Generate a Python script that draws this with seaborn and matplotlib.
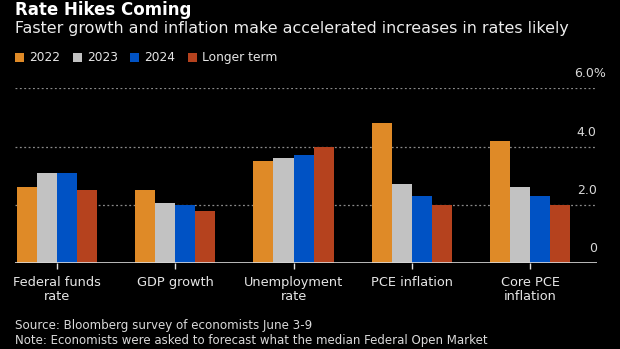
import matplotlib
matplotlib.use("Agg")
import matplotlib.pyplot as plt
import matplotlib.transforms as mtransforms
from matplotlib.patches import Patch
import seaborn as sns
import pandas as pd

# Survey medians (percent)
categories = ["Federal funds\nrate", "GDP growth", "Unemployment\nrate", "PCE inflation", "Core PCE\ninflation"]
periods = ["2022", "2023", "2024", "Longer term"]
v2022 = [2.6, 2.5, 3.5, 4.8, 4.2]
v2023 = [3.1, 2.05, 3.6, 2.7, 2.6]
v2024 = [3.1, 2.0, 3.7, 2.3, 2.3]
vlonger = [2.5, 1.8, 4.0, 2.0, 2.0]
y_ticks = [0, 2, 4, 6]
y_tick_labels = ["0", "2.0", "4.0", "6.0%"]

colors = ["#DF8A27", "#C2C2C2", "#0052C4", "#B5421E"]

rows = []
for period, vals in zip(periods, [v2022, v2023, v2024, vlonger]):
    for cat, v in zip(categories, vals):
        rows.append({"category": cat, "period": period, "value": v})
df = pd.DataFrame(rows)

sns.set_theme(style="dark")
plt.rcParams["font.family"] = ["DejaVu Sans"]

fig = plt.figure(figsize=(6.2, 3.49), dpi=100, facecolor="black")
ax = fig.add_axes([0.0248, 0.2464, 0.9375, 0.5006])
ax.set_facecolor("black")

sns.barplot(data=df, x="category", y="value", hue="period", order=categories,
            hue_order=periods, palette=colors, width=0.68, gap=0,
            saturation=1, ax=ax, legend=False, linewidth=0)

ax.set_xlim(-0.352, 4.563)
ax.set_ylim(0, 6)
ax.set_xlabel("")
ax.set_ylabel("")
for s in ax.spines.values():
    s.set_visible(False)
ax.grid(False)

# dotted gridlines and solid baseline
for y in y_ticks[1:]:
    ax.axhline(y, color="#8A8A8A", lw=0.9, ls=(0, (1.5, 2.0)), zorder=0)
ax.axhline(0, color="#DADADA", lw=1.2, zorder=5)

ax.set_yticks([])
ax.tick_params(axis="x", colors="#E0E0E0", length=4, width=1, direction="out",
               labelsize=9.3, pad=5, bottom=True)
ax.tick_params(axis="x", labelcolor="#E6E6E6")
for t in ax.get_xticklabels():
    t.set_linespacing(1.15)

# y labels sit just above their gridlines at the right edge
yl = mtransforms.blended_transform_factory(ax.transAxes, ax.transData)
for y, lab in zip(y_ticks, y_tick_labels):
    dx = 9 if lab.endswith("%") else 0
    tr = mtransforms.offset_copy(yl, fig=fig, x=dx, y=8, units="dots")
    ax.text(1.0, y, lab, transform=tr, ha="right", va="bottom",
            color="#D8D8D8", fontsize=9.0)

# legend
handles = [Patch(facecolor=c, edgecolor="none") for c in colors]
fig.legend(handles, periods, loc="upper left", bbox_to_anchor=(0.0245, 0.853),
           ncol=4, frameon=False, fontsize=8.8, labelcolor="#E6E6E6",
           handlelength=0.75, handleheight=0.75, handletextpad=0.42,
           columnspacing=1.0, borderpad=0, borderaxespad=0)

fig.text(0.0245, 0.997, "Rate Hikes Coming", color="white", fontsize=12.0,
         fontweight="bold", ha="left", va="top")
fig.text(0.0245, 0.940, "Faster growth and inflation make accelerated increases in rates likely",
         color="#EDEDED", fontsize=11.4, ha="left", va="top")
fig.text(0.0245, 0.068, "Source: Bloomberg survey of economists June 3-9",
         color="#DADADA", fontsize=8.6, ha="left", va="center")
fig.text(0.0245, 0.025, "Note: Economists were asked to forecast what the median Federal Open Market",
         color="#DADADA", fontsize=8.5, ha="left", va="center")

fig.savefig("out.png", dpi=100, facecolor="black")
